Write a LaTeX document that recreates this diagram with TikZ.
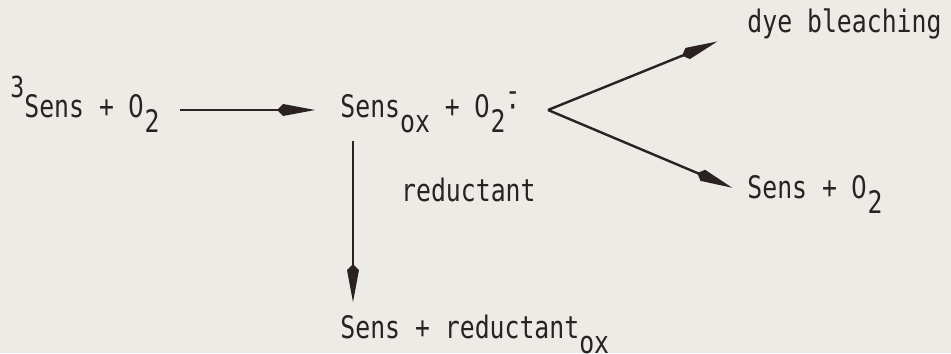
\documentclass[tikz,border=0pt]{standalone}
\usepackage{fontspec}
\usepackage{xcolor}
\newfontfamily\rxnfont[FakeStretch=0.8]{DejaVu Sans Mono}
\newfontfamily\rxnzerofont[FakeStretch=0.8]{DejaVu Sans}
\usetikzlibrary{arrows.meta,positioning}
\definecolor{rxnpaper}{HTML}{EDEBE6}
\definecolor{rxnink}{HTML}{2A2222}
\newcommand{\rxnzero}{{\rxnzerofont 0}}
\newcommand{\rxnsub}[1]{\raisebox{-7.5pt}{#1}}
\newcommand{\rxnsup}[1]{\raisebox{10pt}{\fontsize{14.5pt}{16pt}\selectfont #1}}
\newcommand{\rxnrad}{\rlap{\raisebox{8pt}{-}}·}
\tikzset{
  rxnText/.style={font=\rxnfont\fontsize{15.5pt}{18pt}\selectfont, text=rxnink, inner sep=0pt, anchor=base west},
  rxnLabel/.style={font=\rxnfont\fontsize{15.5pt}{18pt}\selectfont, text=rxnink, inner sep=0pt},
  rxnArrow/.style={-{Kite[length=19pt,width=6pt,inset=3pt]}, line width=1.2pt, draw=rxnink}
}
\begin{document}
\begin{tikzpicture}[x=0.5pt,y=-0.5pt]
  \fill[rxnpaper] (0,0) rectangle (951,353);
  \useasboundingbox (0,0) rectangle (951,353);

  \node[rxnText] (triplet) at (10,118) {\rxnsup{3}Sens + \rxnzero\rxnsub{2}};
  \node[rxnText] (radical) at (340,118) {Sens\rxnsub{ox} + \rxnzero\rxnsub{2}\rxnrad};
  \node[rxnText] (bleach) at (747,33) {dye bleaching};
  \node[rxnText] (regen) at (747,198) {Sens + \rxnzero\rxnsub{2}};
  \node[rxnText] (reduced) at (340,338) {Sens + reductant\rxnsub{ox}};
  \coordinate (fork) at (548,110);

  \draw[rxnArrow, shorten <=10pt, shorten >=12.5pt] (triplet.east |- fork) -- (radical.west |- fork);
  \draw[rxnArrow, shorten >=16pt] (fork) -- ([yshift=-2.5pt]bleach.west);
  \draw[rxnArrow, shorten >=8pt] (fork) -- (regen.west);
  \draw[rxnArrow, shorten <=3.5pt, shorten >=6pt] ([xshift=6.5pt]radical.south west) -- node[rxnLabel, pos=0.31, right=23.5pt] (agent) {reductant} ([xshift=6.5pt]reduced.north west);
\end{tikzpicture}
\end{document}
